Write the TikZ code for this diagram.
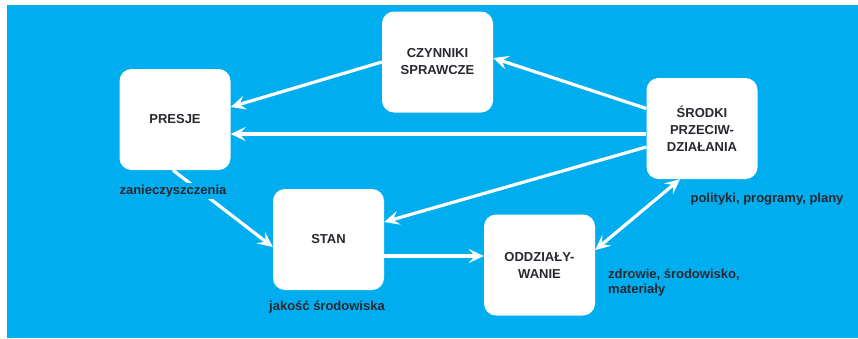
\documentclass[tikz,border=0pt]{standalone}
\usepackage{fontspec}
\setmainfont{Liberation Sans}
\usetikzlibrary{arrows.meta}
\definecolor{dpsirblue}{RGB}{0,174,239}
\definecolor{dpsirtext}{RGB}{40,40,48}

\begin{document}
\begin{tikzpicture}[x=1pt,y=-1pt,>={Stealth[length=15pt,width=14pt,inset=6pt]},
    box/.style={fill=white,rounded corners=12pt,minimum width=111pt,minimum height=101pt,
      align=center,inner sep=0pt,text=dpsirtext,font=\bfseries\fontsize{13}{17}\selectfont},
    note/.style={inner sep=2pt,text=dpsirtext,font=\bfseries\fontsize{13}{15}\selectfont},
    link/.style={->,draw=white,line width=3.2pt}]
  \useasboundingbox[fill=white] (0,0) rectangle (858,338);
  \fill[dpsirblue] (7,5) rectangle (858,338);
  % the five stages
  \node[box] (presje) at (175,119.5) {PRESJE};
  \node[box] (czynniki) at (437.5,62) {CZYNNIKI\\SPRAWCZE};
  \node[box] (srodki) at (702,128.5) {ŚRODKI\\PRZECIW-\\DZIAŁANIA};
  \node[box] (stan) at (328.5,239.5) {STAN};
  \node[box] (oddz) at (539.5,265) {ODDZIAŁY-\\WANIE};
  % connectors
  \draw[link] ([yshift=20pt]srodki.west) -- ([yshift=4pt]czynniki.east);
  \draw[link] (czynniki.west) -- ([yshift=12.5pt]presje.east);
  \draw[link] ([yshift=-5.5pt]srodki.west) -- ([yshift=-14.5pt]presje.east);
  \draw[link] ([yshift=-18.5pt]srodki.west) -- ([yshift=17.5pt]stan.east);
  \draw[link] ([xshift=-2pt]presje.south) -- ([yshift=-7.5pt]stan.west);
  \draw[link] ([yshift=-16.5pt]stan.east) -- ([yshift=-16.5pt]stan.east -| oddz.west);
  \draw[link,<->] ([yshift=15pt]oddz.east) -- ([xshift=-22pt]srodki.south);
  % notes
  \node[note,fill=dpsirblue] (zanie) at (173,191) {zanieczyszczenia};
  \node[note] (jakosc) at (327,307) {jakość środowiska};
  \node[note] (polityki) at (767,199) {polityki, programy, plany};
  \node[note,align=left,anchor=north west] (zdrowie) at (606,267) {zdrowie, środowisko,\\materiały};
\end{tikzpicture}
\end{document}
